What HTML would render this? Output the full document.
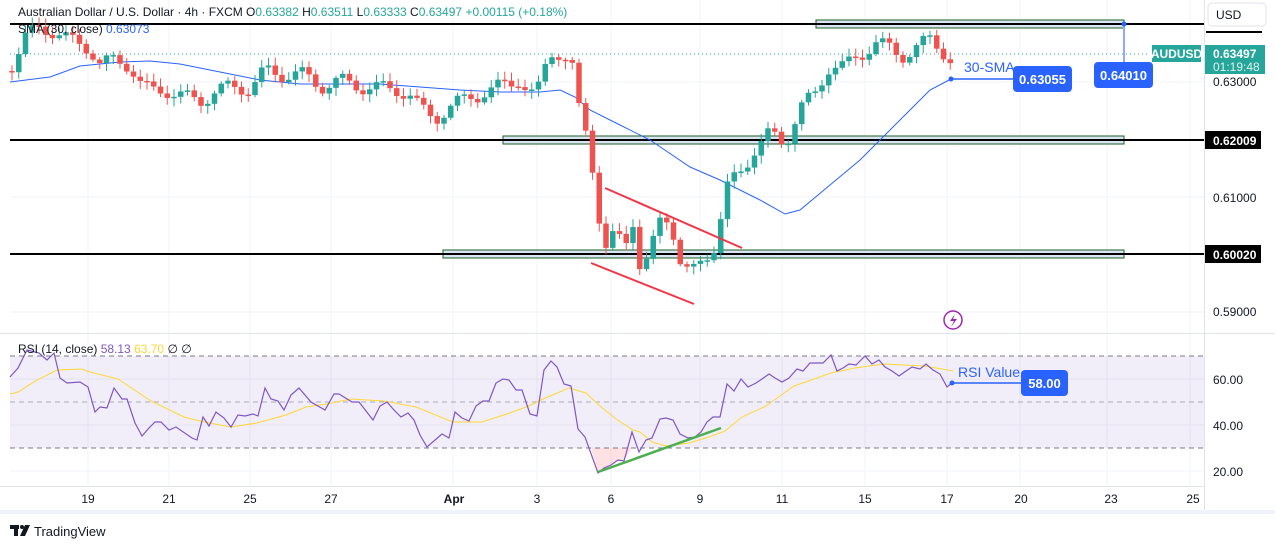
<!DOCTYPE html>
<html><head><meta charset="utf-8">
<style>
html,body{margin:0;padding:0;background:#fff;}
body{width:1275px;height:549px;overflow:hidden;font-family:"Liberation Sans",sans-serif;}
svg text{font-family:"Liberation Sans",sans-serif;}
</style></head><body>
<svg id="c" width="1275" height="549" xmlns="http://www.w3.org/2000/svg">
<rect width="1275" height="549" fill="#fff"/>
<g id="grid" stroke="#f0f3fa" stroke-width="1"></g>
<rect x="10" y="356" width="1194" height="92" fill="#7e57c2" fill-opacity="0.1"/>
<g stroke="#787b86" stroke-dasharray="5,4" stroke-width="1">
<line x1="10" y1="356" x2="1204" y2="356"/><line x1="10" y1="402" x2="1204" y2="402" stroke-opacity="0.6"/><line x1="10" y1="448" x2="1204" y2="448"/>
</g>
<rect x="816" y="20" width="308" height="8" fill="#dbe4f3" stroke="#1b5e20" stroke-width="1"/>
<rect x="503" y="136" width="621" height="8" fill="#dbe4f3" stroke="#1b5e20" stroke-width="1"/>
<rect x="443" y="250" width="681" height="8" fill="#dbe4f3" stroke="#1b5e20" stroke-width="1"/>
<g stroke="#000" stroke-width="2">
<line x1="10" y1="24" x2="1204" y2="24"/><line x1="10" y1="140" x2="1204" y2="140"/><line x1="10" y1="254" x2="1204" y2="254"/>
</g>
<line x1="10" y1="54" x2="1150" y2="54" stroke="#26a69a" stroke-dasharray="1,3" stroke-width="1"/>
<polyline id="sma" fill="none" stroke="#2962ff" stroke-width="1" points="10,82 50,77 80,66 120,62 150,61 180,64 220,72 260,80 300,84 340,84 380,84 420,87 460,90 500,92 540,92 560,90 575,97 590,110 620,125 650,140 690,167 720,180 760,200 785,214 800,210 830,185 860,160 890,130 910,110 930,90 951,79"/>
<g id="candles"></g>
<line x1="605" y1="188" x2="742" y2="248" stroke="#f23645" stroke-width="2"/>
<line x1="591" y1="263" x2="694" y2="304" stroke="#f23645" stroke-width="2"/>
<line x1="1124" y1="24" x2="1124" y2="64" stroke="#90a8ff" stroke-width="2"/>
<circle cx="1124" cy="24" r="2.5" fill="#2962ff"/>
<rect x="1094" y="62" width="59" height="26" rx="4" fill="#2962ff"/>
<text x="1123.5" y="80" fill="#fff" font-size="13" font-weight="bold" text-anchor="middle">0.64010</text>
<line x1="951" y1="79" x2="1016" y2="79" stroke="#2962ff" stroke-width="1.5"/>
<circle cx="951" cy="79" r="2.5" fill="#2962ff"/>
<text x="964" y="72" fill="#2962ff" font-size="14">30-SMA</text>
<rect x="1013" y="66" width="59" height="26" rx="4" fill="#2962ff"/>
<text x="1042.5" y="84" fill="#fff" font-size="13" font-weight="bold" text-anchor="middle">0.63055</text>
<circle cx="953" cy="320" r="9" fill="none" stroke="#9c27b0" stroke-width="1.5"/>
<path d="M955 314 L950 321 L954 321 L951 327 L957 319 L953 319 Z" fill="#9c27b0"/>
<line x1="0" y1="333.5" x2="1275" y2="333.5" stroke="#e0e3eb"/>
<line x1="0" y1="486.5" x2="1205" y2="486.5" stroke="#e0e3eb"/>
<rect x="0" y="510" width="1275" height="4" fill="#f0f3fa"/>
<line x1="1204.5" y1="0" x2="1204.5" y2="510" stroke="#e0e3eb"/>
<polygon points="591,448 598,473 604,468 611,465 618,460 624,461 632,448" fill="#f23645" fill-opacity="0.15"/>
<polyline fill="none" stroke="#fdd835" stroke-width="1" points="10,394 18,392 37,380 57,370 82,369 90,372 118,379 151,401 184,417 204,422 231,427 257,423 286,415 306,407 327,404 351,399 384,401 416,407 453,422 482,422 510,413 531,405 543,399 569,388 586,393 600,406 616,419 633,430 640,432 652,442 666,446 689,443 709,437 725,431 742,417 766,406 794,386 817,378 831,373 855,368 884,364 925,366 953,371"/>
<polyline fill="none" stroke="#7e57c2" stroke-width="1.2" points="10,377 18,368 27,350 39,353 47,360 54,353 60,378 67,383 80,382 88,387 95,412 100,407 107,408 114,388 122,399 127,399 135,423 142,436 149,428 155,422 161,422 169,430 176,427 192,438 197,440 203,417 209,426 216,412 224,418 231,427 238,415 245,416 253,414 258,416 265,388 271,399 278,401 284,410 291,395 299,388 311,402 325,410 334,394 339,394 352,402 359,402 373,420 380,406 387,402 394,410 401,417 408,413 414,420 420,435 427,447 442,434 449,438 455,412 462,418 469,421 476,406 483,401 489,401 496,383 503,379 509,380 516,390 522,390 530,414 537,416 544,370 551,361 557,367 564,384 571,386 578,429 585,437 598,473 604,468 611,465 618,460 624,461 632,432 639,452 646,440 652,438 660,419 666,418 673,420 680,434 688,438 695,437 701,432 707,422 713,417 720,417 727,384 734,391 741,379 748,387 756,383 762,379 769,374 775,378 782,382 789,378 797,369 803,371 810,363 817,363 823,363 831,355 837,371 843,368 849,364 856,365 865,356 872,364 879,360 885,367 892,371 899,376 906,371 912,367 920,369 926,364 933,370 940,374 947,387 952,383"/>
<line x1="598" y1="472" x2="721" y2="428" stroke="#4caf50" stroke-width="2.5"/>
<line x1="952" y1="383" x2="1022" y2="383" stroke="#2962ff" stroke-width="1.5"/>
<circle cx="952" cy="383" r="2.5" fill="#2962ff"/>
<text x="958" y="377" fill="#2962ff" font-size="14">RSI Value</text>
<rect x="1021" y="370" width="47" height="26" rx="4" fill="#2962ff"/>
<text x="1044.5" y="388" fill="#fff" font-size="13" font-weight="bold" text-anchor="middle">58.00</text>
<text x="18" y="16" font-size="12" fill="#131722">Australian Dollar / U.S. Dollar · 4h · FXCM  O<tspan fill="#26a69a">0.63382</tspan>  H<tspan fill="#26a69a">0.63511</tspan>  L<tspan fill="#26a69a">0.63333</tspan>  C<tspan fill="#26a69a">0.63497</tspan>  <tspan fill="#26a69a">+0.00115 (+0.18%)</tspan></text>
<text x="18" y="33" font-size="12" fill="#131722">SMA (30, close)  <tspan fill="#2962ff">0.63073</tspan></text>
<text x="18" y="353" font-size="12" fill="#131722">RSI (14, close)  <tspan fill="#7e57c2">58.13</tspan>  <tspan fill="#fdd835">63.70</tspan>  ∅  ∅</text>
<rect x="1208" y="3" width="58" height="23" rx="4" fill="#fff" stroke="#e0e3eb"/>
<text x="1216" y="19" font-size="12" fill="#131722">USD</text>
<line x1="1206" y1="32" x2="1262" y2="32" stroke="#000" stroke-width="2"/>
<rect x="1152" y="45" width="49" height="17" fill="#26a69a"/>
<text x="1176.5" y="58" font-size="12" font-weight="bold" fill="#fff" text-anchor="middle">AUDUSD</text>
<rect x="1205" y="45" width="60" height="29" fill="#26a69a"/>
<text x="1213" y="58" font-size="12" font-weight="bold" fill="#fff">0.63497</text>
<text x="1213" y="71" font-size="12" fill="#e0f2f1">01:19:48</text>
<g font-size="12" fill="#131722">
<text x="1213" y="86">0.63000</text>
<text x="1213" y="202">0.61000</text>
<text x="1213" y="316">0.59000</text>
<text x="1213" y="384">60.00</text>
<text x="1213" y="430">40.00</text>
<text x="1213" y="476">20.00</text>
</g>
<rect x="1205" y="131" width="56" height="18" fill="#000"/>
<text x="1213" y="145" font-size="12" font-weight="bold" fill="#fff">0.62009</text>
<rect x="1205" y="245" width="56" height="18" fill="#000"/>
<text x="1213" y="259" font-size="12" font-weight="bold" fill="#fff">0.60020</text>
<g font-size="12" fill="#131722" text-anchor="middle">
<text x="88" y="503">19</text><text x="169" y="503">21</text><text x="250" y="503">25</text><text x="331" y="503">27</text>
<text x="454" y="503" font-weight="bold">Apr</text><text x="537" y="503">3</text><text x="611" y="503">6</text><text x="700" y="503">9</text>
<text x="782" y="503">11</text><text x="865" y="503">15</text><text x="947" y="503">17</text><text x="1021" y="503">20</text><text x="1111" y="503">23</text><text x="1193" y="503">25</text>
</g>
<g fill="#131722">
<rect x="10" y="525" width="9" height="4"/><rect x="14" y="525" width="4" height="11"/>
<circle cx="22" cy="527" r="2"/><path d="M25 525 L30 525 L25 536 L20 536 Z"/>
</g>
<text x="34" y="536" font-size="13" fill="#131722">TradingView</text>
</svg>
<script>
(function(){
var NS="http://www.w3.org/2000/svg";
var g=document.getElementById('grid');
[88,169,250,331,453,537,611,700,782,865,947,1020,1107,1190].forEach(function(x){
 var l=document.createElementNS(NS,'line');l.setAttribute('x1',x);l.setAttribute('x2',x);l.setAttribute('y1',0);l.setAttribute('y2',486);g.appendChild(l);});
[82,197,312,379,425,471].forEach(function(y){
 var l=document.createElementNS(NS,'line');l.setAttribute('x1',10);l.setAttribute('x2',1204);l.setAttribute('y1',y);l.setAttribute('y2',y);g.appendChild(l);});
var K=[[12,65],[25,40],[40,32],[55,35],[70,45],[90,50],[100,65],[115,60],[130,62],[140,80],[150,88],[165,85],[185,95],[200,100],[215,92],[230,90],[250,92],[265,75],[280,78],[300,75],[320,85],[340,78],[360,82],[380,85],[400,88],[410,95],[420,110],[435,120],[450,112],[470,100],[490,95],[505,85],[520,78],[530,95],[540,85],[548,50],[555,45],[565,55],[575,70],[580,115],[590,135],[595,190],[605,250],[615,235],[625,245],[635,215],[640,270],[648,265],[660,225],[670,220],[680,265],[690,280],[700,265],[715,245],[728,185],[740,170],[755,145],[770,130],[785,140],[800,105],[815,95],[830,65],[845,70],[860,60],[875,45],[885,50],[900,60],[915,48],[930,40],[945,50],[952,57]];
function f(x){for(var i=0;i<K.length-1;i++){if(x<=K[i+1][0]){var t=(x-K[i][0])/(K[i+1][0]-K[i][0]);return K[i][1]+t*(K[i+1][1]-K[i][1]);}}return K[K.length-1][1];}
var cg=document.getElementById('candles');
var prev=f(12)+6;
for(var x=12;x<=953;x+=6.75){
 var c=f(x)+8*Math.sin(x*1.7)+4*Math.cos(x*0.9);
 var o=prev; var up=c<o; var col=up?'#26a69a':'#ef5350';
 var top=Math.min(o,c), bot=Math.max(o,c); if(bot-top<1.5){bot=top+1.5;}
 var wt=top-2-6*Math.abs(Math.sin(x*2.3)), wb=bot+2+6*Math.abs(Math.cos(x*1.3));
 var l=document.createElementNS(NS,'line');l.setAttribute('x1',x);l.setAttribute('x2',x);l.setAttribute('y1',wt);l.setAttribute('y2',wb);l.setAttribute('stroke',col);cg.appendChild(l);
 var r=document.createElementNS(NS,'rect');r.setAttribute('x',x-2.75);r.setAttribute('y',top);r.setAttribute('width',5.5);r.setAttribute('height',bot-top);r.setAttribute('fill',col);cg.appendChild(r);
 prev=c;
}
})();
</script>
</body></html>
